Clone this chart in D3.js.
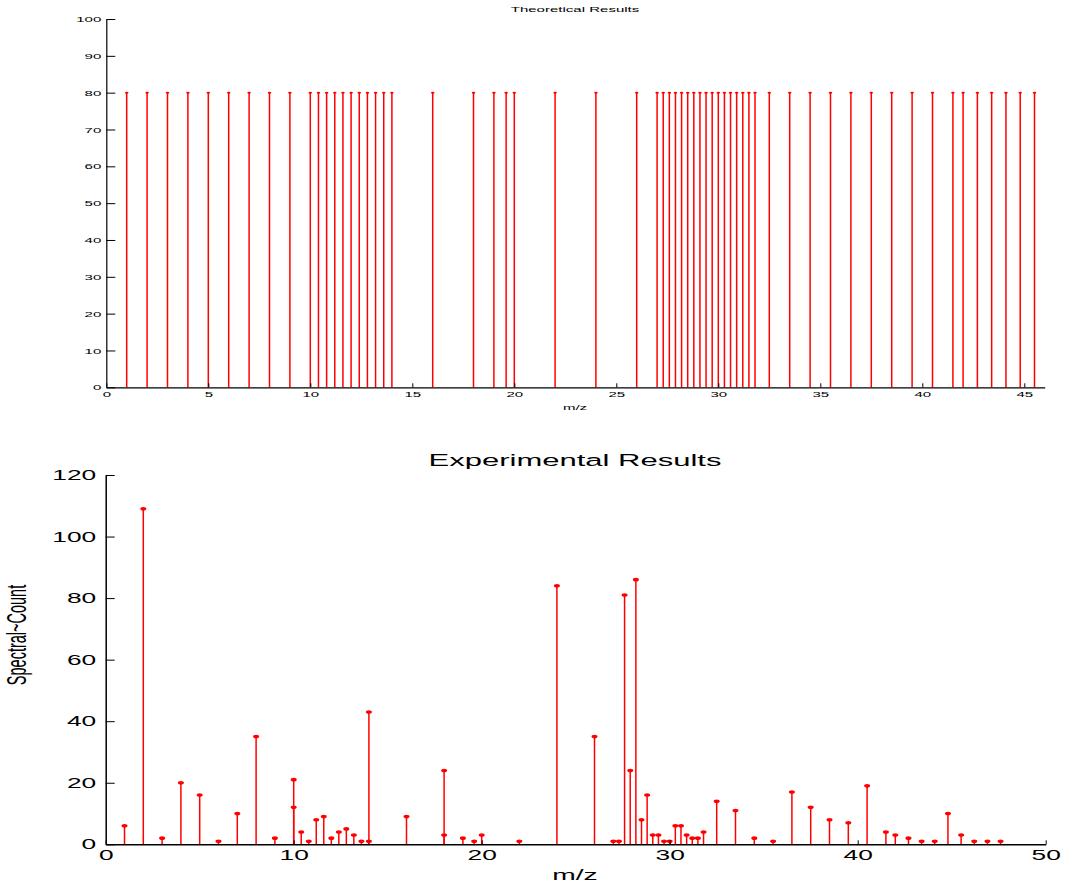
<!DOCTYPE html>
<html lang="en">
<head>
    <meta charset="UTF-8">
    <title>Theoretical vs Experimental Results</title>
    <script src="https://d3js.org/d3.v7.min.js"></script>
    <style>
        body { margin: 0; background: #fff; }
        svg { display: block; }
        text { font-family: "Liberation Sans", Arial, sans-serif; fill: #000; }
        .axis path, .axis line { stroke: #000; }
    </style>
</head>
<body>
    <svg width="1068" height="883"></svg>

    <script>
        // Theoretical peaks (m/z), all at intensity 80
        const theoMz = [1, 2, 3, 4, 5, 6, 7, 8, 9,
            10, 10.4, 10.8, 11.2, 11.6, 12, 12.4, 12.8, 13.2, 13.6, 14,
            16, 18, 19, 19.6, 20, 22, 24, 26,
            27, 27.3, 27.6, 27.9, 28.2, 28.5, 28.8, 29.1, 29.4, 29.7, 30, 30.3, 30.6, 30.9, 31.2, 31.5, 31.8,
            32.5, 33.5, 34.5, 35.5, 36.5, 37.5, 38.5, 39.5, 40.5, 41.5,
            42, 42.7, 43.4, 44.1, 44.8, 45.5];
        const theoValue = 80;

        // Experimental peaks (m/z and spectral count)
        const expMz = [1, 2, 3, 4, 5, 6, 7, 8, 9, 10, 10, 10.4, 10.8, 11.2, 11.6, 12, 12.4, 12.8, 13.2, 13.6,
            14, 14, 16, 18, 18, 19, 19.6, 20, 22, 24, 26,
            27, 27.3, 27.6, 27.9, 28.2, 28.5, 28.8, 29.1, 29.4, 29.7, 30, 30.3, 30.6, 30.9, 31.2, 31.5, 31.8,
            32.5, 33.5, 34.5, 35.5, 36.5, 37.5, 38.5, 39.5, 40.5, 41.5,
            42, 42.7, 43.4, 44.1, 44.8, 45.5, 46.2, 46.9, 47.6];
        const expCount = [6, 109, 2, 20, 16, 1, 10, 35, 2, 21, 12, 4, 1, 8, 9, 2, 4, 5, 3, 1,
            43, 1, 9, 24, 3, 2, 1, 3, 1, 84, 35,
            1, 1, 81, 24, 86, 8, 16, 3, 3, 1, 1, 6, 6, 3, 2, 2, 4,
            14, 11, 2, 1, 17, 12, 8, 7, 19, 4,
            3, 2, 1, 1, 10, 3, 1, 1, 1];

        const theoXTicks = [0, 5, 10, 15, 20, 25, 30, 35, 40, 45];
        const theoYTicks = [0, 10, 20, 30, 40, 50, 60, 70, 80, 90, 100];
        const expXTicks = [0, 10, 20, 30, 40, 50];
        const expYTicks = [0, 20, 40, 60, 80, 100, 120];

        const svg = d3.select("svg");
        const SX = 1.88; // text in the original is stretched horizontally
        const red = "#ff0000";

        function stretchText(sel, size) {
            sel.selectAll(".tick text")
                .attr("font-size", size)
                .attr("font-family", "Liberation Sans, Arial, sans-serif")
                .attr("transform", `scale(${SX},1)`);
        }

        function label(x, y, txt, size) {
            svg.append("text")
                .attr("transform", `translate(${x},${y}) scale(${SX},1)`)
                .attr("text-anchor", "middle")
                .attr("font-size", size)
                .text(txt);
        }

        // ---------- Top: theoretical ----------
        const x1 = d3.scaleLinear().domain([0, 46]).range([106.3, 1044.7]);
        const y1 = d3.scaleLinear().domain([0, 100]).range([387.3, 19]);

        const gTheo = svg.append("g");
        gTheo.selectAll("line.stem")
            .data(theoMz)
            .enter().append("line")
            .attr("class", "stem")
            .attr("x1", d => x1(d)).attr("x2", d => x1(d))
            .attr("y1", y1(0)).attr("y2", y1(theoValue))
            .attr("stroke", red).attr("stroke-width", 1.5);
        gTheo.selectAll("ellipse")
            .data(theoMz)
            .enter().append("ellipse")
            .attr("cx", d => x1(d)).attr("cy", y1(theoValue))
            .attr("rx", 1.8).attr("ry", 1)
            .attr("fill", red);

        const ax1 = gTheo.append("g").attr("class", "axis")
            .attr("transform", `translate(0,${y1(0)})`)
            .call(d3.axisBottom(x1).tickValues(theoXTicks).tickSizeInner(-4).tickSizeOuter(0).tickPadding(4));
        stretchText(ax1, 8);
        const ay1 = gTheo.append("g").attr("class", "axis")
            .attr("transform", `translate(${x1(0)},0)`)
            .call(d3.axisLeft(y1).tickValues(theoYTicks).tickSizeInner(-9).tickSizeOuter(0).tickPadding(5 / SX));
        stretchText(ay1, 8);
        ax1.select(".domain").attr("stroke-width", 1.2);
        ay1.select(".domain").attr("stroke-width", 1.2);

        label(575, 12, "Theoretical Results", 8);
        label(575, 410, "m/z", 8);

        // ---------- Bottom: experimental ----------
        const x2 = d3.scaleLinear().domain([0, 50]).range([105.7, 1045.7]);
        const y2 = d3.scaleLinear().domain([0, 120]).range([844.3, 475]);

        const gExp = svg.append("g");
        gExp.selectAll("line.stem")
            .data(expMz)
            .enter().append("line")
            .attr("class", "stem")
            .attr("x1", d => x2(d)).attr("x2", d => x2(d))
            .attr("y1", y2(0)).attr("y2", (d, i) => y2(expCount[i]))
            .attr("stroke", red).attr("stroke-width", 1.5);
        gExp.selectAll("ellipse")
            .data(expMz)
            .enter().append("ellipse")
            .attr("cx", d => x2(d)).attr("cy", (d, i) => y2(expCount[i]))
            .attr("rx", 3).attr("ry", 1.8)
            .attr("fill", red);

        const ax2 = gExp.append("g").attr("class", "axis")
            .attr("transform", `translate(0,${y2(0)})`)
            .call(d3.axisBottom(x2).tickValues(expXTicks).tickSizeInner(-4).tickSizeOuter(0).tickPadding(6));
        stretchText(ax2, 14);
        const ay2 = gExp.append("g").attr("class", "axis")
            .attr("transform", `translate(${x2(0)},0)`)
            .call(d3.axisLeft(y2).tickValues(expYTicks).tickSizeInner(-9).tickSizeOuter(0).tickPadding(9.5 / SX));
        stretchText(ay2, 14);
        ax2.select(".domain").attr("stroke-width", 1.5);
        ay2.select(".domain").attr("stroke-width", 1.5);

        label(575, 466, "Experimental Results", 16.5);
        label(575, 880, "m/z", 15);

        // rotated y label
        svg.append("text")
            .attr("transform", `translate(26,635) scale(${SX},1) rotate(-90)`)
            .attr("text-anchor", "middle")
            .attr("font-size", 14.5)
            .text("Spectral~Count");
    </script>
</body>
</html>
